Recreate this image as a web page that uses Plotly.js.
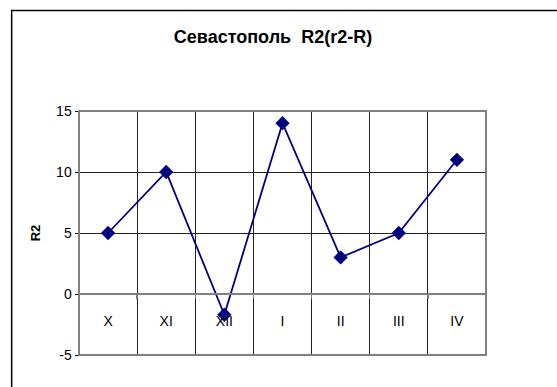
<!DOCTYPE html>
<html>
<head>
<meta charset="utf-8">
<script src="https://cdn.plot.ly/plotly-3.0.1.min.js"></script>
<style>html,body{margin:0;padding:0;background:#fff;}#chart{width:557px;height:387px;}</style>
</head>
<body>
<div id="chart"></div>
<script>
var categories = ["X", "XI", "XII", "I", "II", "III", "IV"];
var values = [5, 10, -1.7, 14, 3, 5, 11];
var yTickValues = [-5, 0, 5, 10, 15];
var yTickLabels = ["-5", "0", "5", "10", "15"];
var titleText = "Севастополь\u00a0 R2(r2-R)";
var yTitleText = "R2";

var W = 557, H = 387;
var mL = 78.5, mR = 70.5, mT = 111, mB = 32;
var pw = W - mL - mR, ph = H - mT - mB;
function px(x){ return (x - mL) / pw; }
function py(y){ return 1 - (y - mT) / ph; }

var trace = {
  x: categories,
  y: values,
  type: 'scatter',
  mode: 'lines+markers',
  line: {color: '#000080', width: 1.8},
  marker: {symbol: 'diamond', size: 11, color: '#000080'},
  cliponaxis: false,
  hoverinfo: 'none'
};

var layout = {
  width: W, height: H,
  margin: {l: mL, r: mR, t: mT, b: mB, pad: 0},
  paper_bgcolor: '#fff', plot_bgcolor: '#fff',
  showlegend: false,
  font: {family: 'Liberation Sans, Arial, sans-serif', size: 14, color: '#000'},
  title: {
    text: titleText,
    font: {family: 'Liberation Sans, Arial, sans-serif', size: 18, color: '#000', weight: 'bold'},
    x: 273 / W, xref: 'container', xanchor: 'center',
    y: 1 - 37 / H, yref: 'container', yanchor: 'middle'
  },
  xaxis: {
    type: 'category',
    range: [-0.5, 6.5],
    tickson: 'boundaries',
    showgrid: true, gridcolor: '#222', gridwidth: 1,
    ticks: 'outside', ticklen: 4, tickcolor: '#777', tickwidth: 1.5,
    anchor: 'free', position: 0.25,
    showline: true, linecolor: '#808080', linewidth: 2,
    ticklabelstandoff: 14,
    tickfont: {size: 14, color: '#000'},
    zeroline: false, fixedrange: true
  },
  yaxis: {
    range: [-5, 15],
    tickvals: yTickValues,
    ticktext: yTickLabels,
    showgrid: true, gridcolor: '#222', gridwidth: 1,
    zeroline: false,
    ticks: 'outside', ticklen: 3, tickcolor: '#000',
    showline: true, linecolor: '#000', linewidth: 1.5,
    tickfont: {size: 14, color: '#000'},
    title: {text: yTitleText, standoff: 12,
      font: {size: 13, color: '#000', weight: 'bold'}},
    fixedrange: true
  },
  shapes: [
    {type: 'rect', xref: 'paper', yref: 'paper', x0: 0, x1: 1, y0: 0, y1: 1,
     line: {color: '#808080', width: 2}, layer: 'above'},
    {type: 'rect', xref: 'paper', yref: 'paper', x0: px(11), x1: px(W + 10), y0: py(H + 10), y1: py(10.5),
     line: {color: '#000', width: 1.5}, layer: 'above'}
  ]
};

Plotly.newPlot('chart', [trace], layout, {staticPlot: true, displayModeBar: false});
</script>
</body>
</html>
